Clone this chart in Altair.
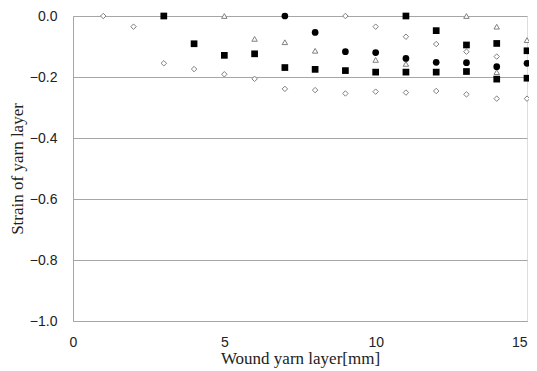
import altair as alt
import pandas as pd

# open diamonds
dia_x = [1, 2, 3, 4, 5, 6, 7, 8, 9, 9, 10, 10, 11, 11, 12, 12, 13, 13, 14, 14, 15]
dia_y = [0.0, -0.035, -0.155, -0.174, -0.191, -0.206, -0.239, -0.243, 0.0, -0.254,
         -0.035, -0.248, -0.068, -0.251, -0.092, -0.246, -0.117, -0.257, -0.133, -0.271, -0.271]
# filled squares
sq_x = [3, 4, 5, 6, 7, 8, 9, 10, 11, 11, 12, 12, 13, 13, 14, 14, 15, 15]
sq_y = [0.0, -0.091, -0.129, -0.124, -0.169, -0.175, -0.179, -0.184, 0.0, -0.184,
        -0.048, -0.184, -0.095, -0.182, -0.090, -0.207, -0.114, -0.204]
# open triangles
tri_x = [5, 6, 7, 8, 10, 11, 13, 14, 14, 15]
tri_y = [0.0, -0.075, -0.086, -0.114, -0.144, -0.157, 0.0, -0.035, -0.184, -0.079]
# filled circles
cir_x = [7, 8, 9, 10, 11, 12, 13, 14, 15]
cir_y = [0.0, -0.054, -0.117, -0.120, -0.139, -0.152, -0.153, -0.166, -0.155]

x_ticks = [0, 5, 10, 15]
y_ticks = [0.0, -0.2, -0.4, -0.6, -0.8, -1.0]

grey = "#a6a6a6"

xenc = alt.X("x:Q", scale=alt.Scale(domain=[0, 15], nice=False),
             axis=alt.Axis(values=x_ticks, title="Wound yarn layer[mm]", grid=False,
                           labelFont="Liberation Sans", labelFontSize=14, labelColor="#222",
                           labelFlush=False,
                           labelAlign=alt.expr("datum.value == 15 ? 'right' : 'center'"),
                           titleFont="Liberation Serif", titleFontSize=17, titleFontWeight="normal",
                           titleColor="#222", labelPadding=14, titlePadding=1,
                           domainColor=grey, tickSize=0))
yenc = alt.Y("y:Q", scale=alt.Scale(domain=[-1.0, 0.0], nice=False),
             axis=alt.Axis(values=y_ticks, format=".1f", title="Strain of yarn layer",
                           labelFont="Liberation Sans", labelFontSize=14, labelColor="#222",
                           labelFlush=False,
                           titleFont="Liberation Serif", titleFontSize=17, titleFontWeight="normal",
                           titleColor="#222", labelPadding=16, titlePadding=3,
                           gridColor=grey, gridWidth=1.2, domainColor=grey, tickSize=0))


def layer(xs, ys, shape, filled, size):
    df = pd.DataFrame({"x": xs, "y": ys})
    if filled:
        m = alt.Chart(df).mark_point(shape=shape, filled=True, color="black", size=size, opacity=1)
    else:
        m = alt.Chart(df).mark_point(shape=shape, filled=False, stroke="#808080", fill="white",
                                     fillOpacity=1, strokeWidth=1, size=size, opacity=1)
    return m.encode(x=xenc, y=yenc)


chart = alt.layer(
    layer(dia_x, dia_y, "diamond", False, 30),
    layer(tri_x, tri_y, "triangle-up", False, 30),
    layer(sq_x, sq_y, "square", True, 45),
    layer(cir_x, cir_y, "circle", True, 45),
).properties(
    width=454, height=305,
    autosize=alt.AutoSizeParams(type="none"),
    padding={"left": 65, "top": 8, "right": 2, "bottom": 50},
).configure_view(stroke=grey, strokeWidth=1.2).configure(background="white")

chart.save("out.html", embed_options={"renderer": "svg", "actions": False})
